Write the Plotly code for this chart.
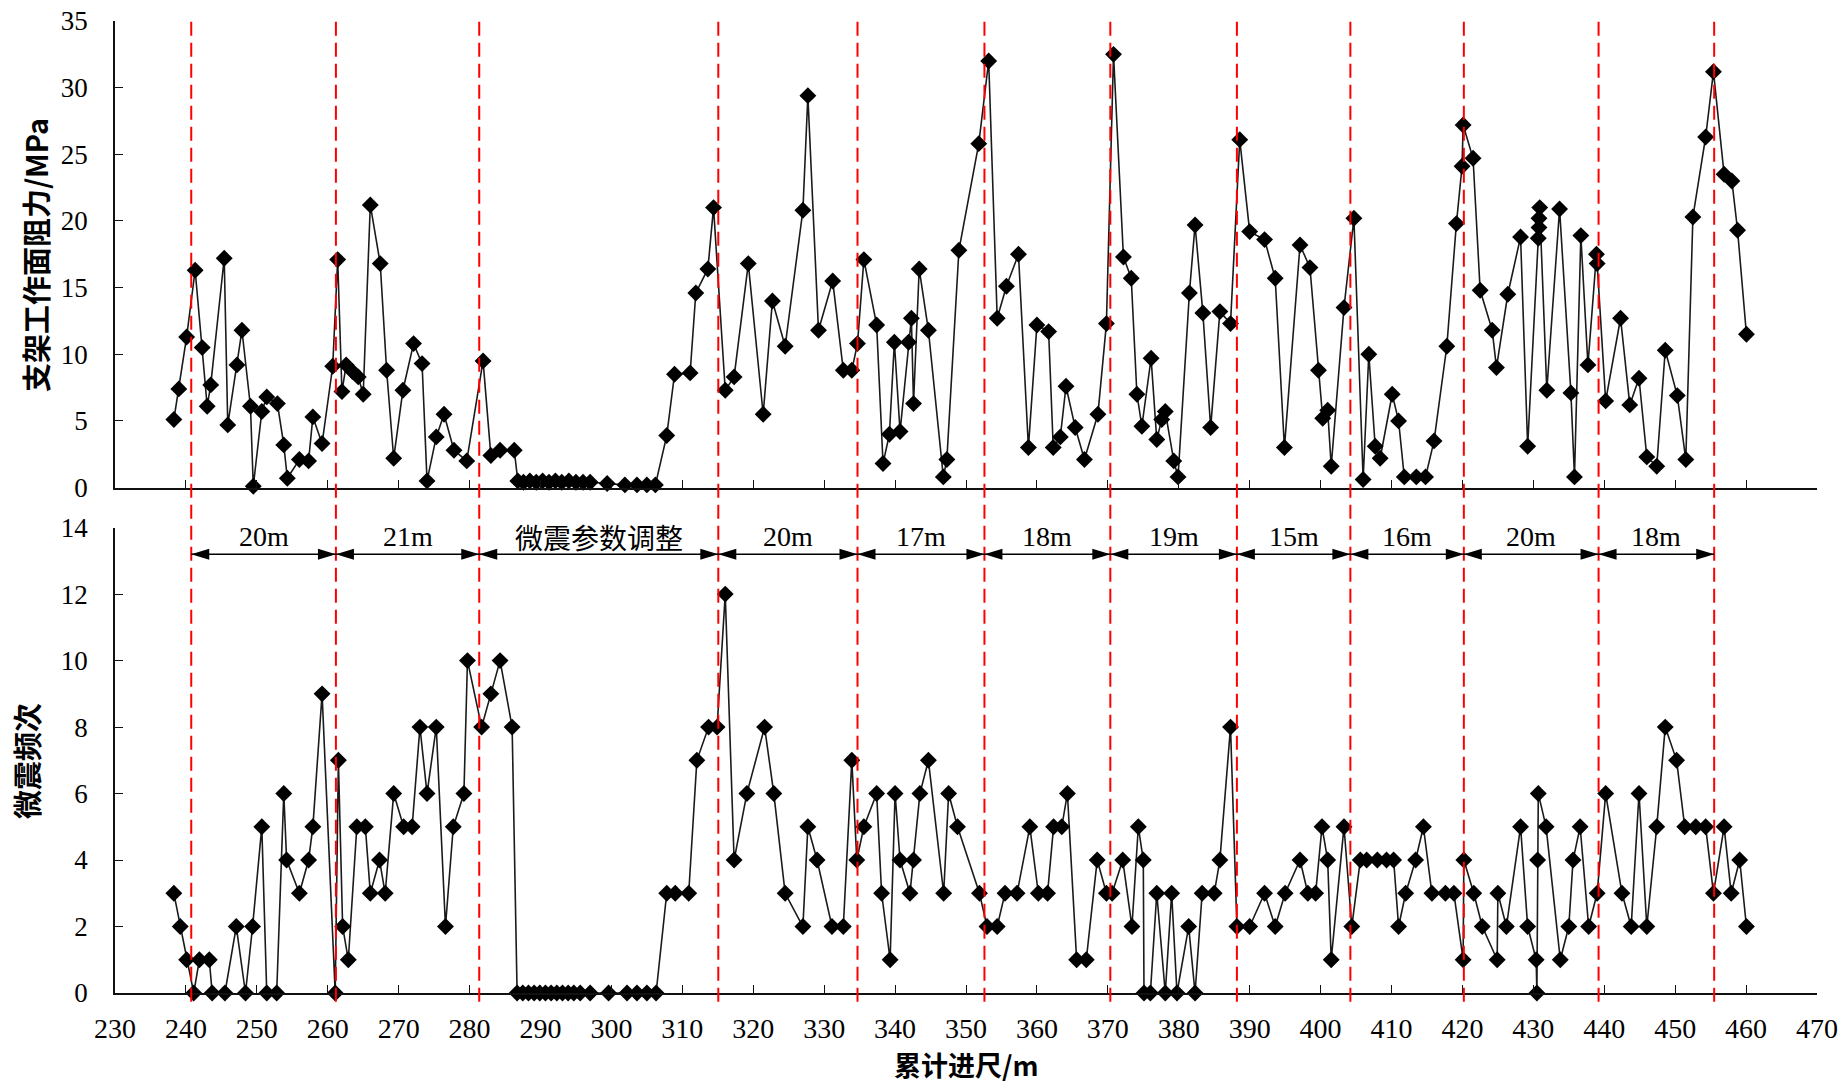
import plotly.graph_objects as go

# ---------------- data ----------------
top_x = [238.3, 239.0, 240.1, 241.3, 242.3, 243.0, 243.5, 245.4, 245.9, 247.2,
         247.9, 249.1, 249.5, 250.7, 251.4, 252.9, 253.8, 254.3, 256.0, 257.3,
         257.9, 259.2, 260.7, 261.4, 262.0, 262.6, 263.5, 264.3, 265.0, 266.0,
         267.4, 268.3, 269.3, 270.6, 272.1, 273.3, 274.0, 275.3, 276.4, 277.8,
         279.6, 281.9, 283.0, 284.3, 286.3, 286.8, 287.6, 288.5, 289.4, 290.3,
         291.2, 292.1, 293.0, 294.0, 295.0, 296.0, 297.0, 299.4, 301.9, 303.6,
         305.0, 306.2, 307.8, 308.9, 311.1, 311.9, 313.6, 314.4, 316.05, 317.3,
         319.3, 321.4, 322.7, 324.5, 327.0, 327.7, 329.2, 331.2, 332.7, 333.9,
         334.7, 335.6, 337.4, 338.3, 339.2, 339.9, 340.7, 341.9, 342.3, 342.6,
         343.4, 344.7, 346.8, 347.3, 349.0, 351.8, 353.2, 354.4, 355.7, 357.4,
         358.8, 360.0, 361.65, 362.3, 363.3, 364.1, 365.4, 366.7, 368.6, 369.8,
         370.8, 372.2, 373.3, 374.1, 374.8, 376.1, 376.9, 377.6, 378.1, 379.3,
         379.9, 381.5, 382.3, 383.4, 384.5, 385.8, 387.3, 388.6, 390.0, 392.1,
         393.6, 394.9, 397.1, 398.5, 399.7, 400.3, 401.0, 401.5, 403.3, 404.7,
         406.0, 406.8, 407.7, 408.4, 410.1, 411.0, 411.8, 413.5, 414.8, 416.0,
         417.8, 419.15, 419.95, 420.1, 421.5, 422.5, 424.2, 424.8, 426.4, 428.2,
         429.2, 430.7, 430.8, 430.8, 430.9, 431.9, 433.7, 435.3, 435.8, 436.7,
         437.7, 438.9, 439.0, 440.2, 442.3, 443.6, 444.9, 446.0, 447.4, 448.6,
         450.3, 451.5, 452.5, 454.3, 455.4, 456.9, 458.0, 458.8, 460.05]
top_y = [5.1, 7.4, 11.3, 16.3, 10.5, 6.1, 7.7, 17.2, 4.7, 9.2,
         11.8, 6.1, 0.1, 5.7, 6.8, 6.3, 3.2, 0.7, 2.1, 2.0,
         5.3, 3.3, 9.1, 17.1, 7.2, 9.2, 8.7, 8.3, 7.0, 21.2,
         16.8, 8.8, 2.2, 7.3, 10.8, 9.3, 0.5, 3.8, 5.5, 2.8,
         2.0, 9.5, 2.4, 2.8, 2.8, 0.5, 0.4, 0.5, 0.4, 0.5,
         0.4, 0.5, 0.4, 0.5, 0.4, 0.4, 0.4, 0.3, 0.2, 0.2,
         0.2, 0.2, 3.9, 8.5, 8.6, 14.6, 16.4, 21.0, 7.3, 8.3,
         16.8, 5.5, 14.0, 10.6, 20.8, 29.4, 11.8, 15.5, 8.8, 8.8,
         10.8, 17.1, 12.2, 1.8, 4.0, 10.9, 4.2, 10.9, 12.7, 6.3,
         16.4, 11.8, 0.8, 2.1, 17.8, 25.8, 32.0, 12.7, 15.1, 17.5,
         3.0, 12.2, 11.7, 3.0, 3.8, 7.6, 4.5, 2.1, 5.5, 12.3,
         32.5, 17.3, 15.7, 7.0, 4.6, 9.7, 3.6, 5.1, 5.7, 2.0,
         0.8, 14.6, 19.7, 13.1, 4.5, 13.2, 12.3, 26.1, 19.2, 18.6,
         15.7, 3.0, 18.2, 16.5, 8.8, 5.2, 5.8, 1.6, 13.5, 20.2,
         0.6, 10.0, 3.1, 2.2, 7.0, 5.0, 0.8, 0.8, 0.8, 3.5,
         10.6, 19.8, 24.1, 27.2, 24.7, 14.8, 11.8, 9.0, 14.5, 18.8,
         3.1, 18.7, 19.5, 20.2, 21.0, 7.3, 20.9, 7.1, 0.8, 18.9,
         9.2, 17.5, 16.8, 6.5, 12.7, 6.2, 8.2, 2.3, 1.6, 10.3,
         6.9, 2.1, 20.3, 26.3, 31.2, 23.5, 23.0, 19.3, 11.5]

bot_x = [238.3, 239.2, 240.1, 241.1, 241.9, 243.3, 243.7, 245.5, 247.1, 248.4,
         249.4, 250.7, 251.4, 252.8, 253.8, 254.2, 256.0, 257.3, 257.9, 259.2,
         261.05, 261.5, 262.1, 262.9, 264.1, 265.3, 266.0, 267.3, 268.1, 269.3,
         270.7, 271.9, 273.0, 274.0, 275.3, 276.6, 277.7, 279.2, 279.7, 281.7,
         283.0, 284.3, 286.0, 286.7, 287.5, 288.3, 289.1, 289.9, 290.7, 291.5,
         292.3, 293.1, 293.9, 294.7, 295.6, 297.0, 299.6, 302.2, 303.6, 305.0,
         306.3, 307.8, 309.0, 310.9, 312.05, 313.7, 314.9, 316.05, 317.3, 319.1,
         321.6, 322.9, 324.5, 327.0, 327.7, 329.0, 331.1, 332.7, 333.9, 334.6,
         335.6, 337.4, 338.1, 339.3, 340.0, 340.7, 342.1, 342.6, 343.5, 344.7,
         346.85, 347.55, 348.8, 351.9, 352.96, 354.4, 355.5, 357.2, 359.0, 360.2,
         361.5, 362.35, 363.5, 364.3, 365.6, 366.96, 368.5, 369.8, 370.6, 372.1,
         373.4, 374.3, 375.0, 375.1, 376.0, 376.9, 378.1, 379.0, 379.75, 381.4,
         382.3, 383.3, 385.0, 385.8, 387.3, 388.2, 390.0, 392.1, 393.6, 395.0,
         397.1, 398.2, 399.3, 400.2, 401.0, 401.5, 403.3, 404.4, 405.6, 406.5,
         408.0, 409.3, 410.3, 411.0, 412.0, 413.4, 414.5, 415.7, 417.6, 418.8,
         420.1, 420.2, 421.6, 422.8, 424.9, 425.0, 426.2, 428.2, 429.2, 430.4,
         430.5, 430.6, 430.7, 431.8, 433.8, 435.0, 435.6, 436.6, 437.8, 439.0,
         440.2, 442.5, 443.8, 444.9, 446.0, 447.4, 448.6, 450.2, 451.35, 452.9,
         454.3, 455.4, 456.9, 457.9, 459.1, 460.05]
bot_y = [3, 2, 1, 0, 1, 1, 0, 0, 2, 0,
         2, 5, 0, 0, 6, 4, 3, 4, 5, 9,
         0, 7, 2, 1, 5, 5, 3, 4, 3, 6,
         5, 5, 8, 6, 8, 2, 5, 6, 10, 8,
         9, 10, 8, 0, 0, 0, 0, 0, 0, 0,
         0, 0, 0, 0, 0, 0, 0, 0, 0, 0,
         0, 3, 3, 3, 7, 8, 8, 12, 4, 6,
         8, 6, 3, 2, 5, 4, 2, 2, 7, 4,
         5, 6, 3, 1, 6, 4, 3, 4, 6, 7,
         3, 6, 5, 3, 2, 2, 3, 3, 5, 3,
         3, 5, 5, 6, 1, 1, 4, 3, 3, 4,
         2, 5, 4, 0, 0, 3, 0, 3, 0, 2,
         0, 3, 3, 4, 8, 2, 2, 3, 2, 3,
         4, 3, 3, 5, 4, 1, 5, 2, 4, 4,
         4, 4, 4, 2, 3, 4, 5, 3, 3, 3,
         1, 4, 3, 2, 1, 3, 2, 5, 2, 1,
         0, 4, 6, 5, 1, 2, 4, 5, 2, 3,
         6, 3, 2, 6, 2, 5, 8, 7, 5, 5,
         5, 3, 5, 3, 4, 2]

boundaries = [240.75, 261.15, 281.36, 315.07, 334.7, 352.6, 370.35,
              388.2, 404.2, 420.2, 439.2, 455.5]
segment_labels = ['20m', '21m', '微震参数调整', '20m', '17m', '18m', '19m',
                  '15m', '16m', '20m', '18m']

top_title = '支架工作面阻力/MPa'
bot_title = '微震频次'
x_title = '累计进尺/m'

# ---------------- figure ----------------
W, H = 1839, 1085
L, R, T, B = 114.8, 1816.7, 21.0, 993.3
ph = B - T
top_dom = [(B - 487.7) / ph, 1.0]
bot_dom = [0.0, (B - 527.8) / ph]

serif = 'Liberation Serif, Times New Roman, serif'
cjk = 'Noto Sans CJK SC, sans-serif'

line_style = dict(color='#1a1a1a', width=1.6)
marker_style = dict(symbol='diamond', size=13, color='black',
                    line=dict(width=0))

fig = go.Figure()
fig.add_trace(go.Scatter(x=top_x, y=top_y, mode='lines+markers',
                         line=line_style, marker=marker_style,
                         xaxis='x', yaxis='y', cliponaxis=False,
                         showlegend=False, hoverinfo='skip'))
fig.add_trace(go.Scatter(x=bot_x, y=bot_y, mode='lines+markers',
                         line=line_style, marker=marker_style,
                         xaxis='x2', yaxis='y2', cliponaxis=False,
                         showlegend=False, hoverinfo='skip'))

axis_common = dict(showgrid=False, zeroline=False, showline=True,
                   linecolor='#111111', linewidth=1.6, ticks='inside',
                   ticklen=8, tickwidth=1.4, tickcolor='#111111',
                   automargin=False)
ytickfont = dict(family=serif, size=27, color='black')
xtickfont = dict(family=serif, size=28, color='black')

fig.update_layout(
    template='none',
    width=W, height=H, autosize=False,
    margin=dict(l=L, r=W - R, t=T, b=H - B, pad=0),
    paper_bgcolor='white', plot_bgcolor='white', showlegend=False,
    xaxis=dict(domain=[0, 1], anchor='y', range=[230, 470], tick0=230,
               dtick=10, showticklabels=False, **axis_common),
    yaxis=dict(domain=top_dom, anchor='x', range=[0, 35], dtick=5,
               tickfont=ytickfont, ticklabelstandoff=20, **axis_common),
    xaxis2=dict(domain=[0, 1], anchor='y2', range=[230, 470], tick0=230,
                dtick=10, tickfont=xtickfont, ticklabelstandoff=10,
                **axis_common),
    yaxis2=dict(domain=bot_dom, anchor='x2', range=[0, 14], dtick=2,
                tickfont=ytickfont, ticklabelstandoff=20, **axis_common),
)

shapes = []
# red dashed boundary lines spanning both panels
for b in boundaries:
    shapes.append(dict(type='line', xref='x', yref='paper', x0=b, x1=b,
                       y0=-0.009, y1=1.006,
                       line=dict(color='#ff0000', width=2, dash='14px,7px'),
                       layer='above'))

arrow_y = 13.2
annotations = []
for i, lab in enumerate(segment_labels):
    a, b = boundaries[i], boundaries[i + 1]
    shapes.append(dict(type='line', xref='x2', yref='y2', x0=a, x1=b,
                       y0=arrow_y, y1=arrow_y,
                       line=dict(color='black', width=1.3)))
    shapes.append(dict(type='path', xref='x2', yref='y2',
                       xsizemode='pixel', ysizemode='pixel',
                       xanchor=a, yanchor=arrow_y,
                       path='M0,0 L18,5.5 L18,-5.5 Z',
                       fillcolor='black', line=dict(width=0)))
    shapes.append(dict(type='path', xref='x2', yref='y2',
                       xsizemode='pixel', ysizemode='pixel',
                       xanchor=b, yanchor=arrow_y,
                       path='M0,0 L-18,5.5 L-18,-5.5 Z',
                       fillcolor='black', line=dict(width=0)))
    fnt = dict(family=serif if lab.endswith('m') else cjk, size=28,
               color='black')
    annotations.append(dict(x=(a + b) / 2, y=13.72, xref='x2', yref='y2',
                            text=lab, showarrow=False, font=fnt,
                            xanchor='center', yanchor='middle'))

title_font = dict(family=cjk, size=29, color='black')
annotations.append(dict(x=(35 - L) / (R - L), y=(B - 255) / ph,
                        xref='paper', yref='paper', text='<b>' + top_title + '</b>',
                        textangle=-90, showarrow=False, font=title_font,
                        xanchor='center', yanchor='middle'))
annotations.append(dict(x=(26 - L) / (R - L), y=(B - 761) / ph,
                        xref='paper', yref='paper', text='<b>' + bot_title + '</b>',
                        textangle=-90, showarrow=False, font=title_font,
                        xanchor='center', yanchor='middle'))
annotations.append(dict(x=(966 - L) / (R - L), y=(B - 1065) / ph,
                        xref='paper', yref='paper', text='<b>' + x_title + '</b>',
                        showarrow=False, font=dict(family=cjk, size=27, color='black'),
                        xanchor='center', yanchor='middle'))

fig.update_layout(shapes=shapes, annotations=annotations)

fig.write_html("out.html", config={'displayModeBar': False, 'responsive': False},
               post_script="document.body.style.margin='0';document.body.style.overflow='hidden';")
